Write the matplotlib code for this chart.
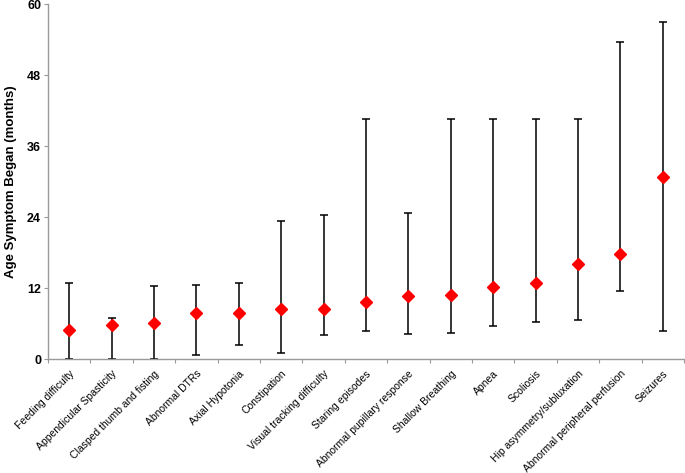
import numpy as np
import matplotlib
matplotlib.use("Agg")
import matplotlib.pyplot as plt

# --- Data (months) ---
symptoms = ["Feeding difficulty", "Appendicular Spasticity", "Clasped thumb and fisting",
            "Abnormal DTRs", "Axial Hypotonia", "Constipation", "Visual tracking difficulty",
            "Staring episodes", "Abnormal pupillary response", "Shallow Breathing", "Apnea",
            "Scoliosis", "Hip asymmetry/subluxation", "Abnormal peripheral perfusion", "Seizures"]
mean_age = [4.9, 5.8, 6.1, 7.7, 7.7, 8.4, 8.4, 9.6, 10.6, 10.8, 12.1, 12.8, 16.0, 17.7, 30.8]
upper = [12.9, 6.9, 12.3, 12.5, 12.9, 23.3, 24.3, 40.6, 24.7, 40.6, 40.6, 40.6, 40.6, 53.5, 57.0]
lower = [0.0, 0.0, 0.0, 0.7, 2.3, 1.0, 4.0, 4.7, 4.2, 4.4, 5.5, 6.2, 6.6, 11.5, 4.7]

plt.rcParams["font.family"] = ["Liberation Sans", "DejaVu Sans"]

fig = plt.figure(figsize=(6.85, 4.73), dpi=100)
ax = fig.add_axes([0.070, 0.241, 0.9285, 0.7505])

x = np.arange(len(symptoms))
mean_age = np.array(mean_age)
yerr = [mean_age - np.array(lower), np.array(upper) - mean_age]

ax.errorbar(x, mean_age, yerr=yerr, fmt="none", ecolor="black", elinewidth=1.1,
            capsize=3, capthick=1.1, zorder=2)
ax.plot(x, mean_age, linestyle="none", marker="D", markersize=6,
        color="red", markeredgecolor="red", zorder=3)

ax.set_xlim(-0.5, len(symptoms) - 0.5)
ax.set_ylim(0, 60)
ax.set_yticks(np.arange(0, 61, 12))
ax.set_yticklabels([str(v) for v in range(0, 61, 12)], fontweight="bold", fontsize=9)
ax.set_ylabel("Age Symptom Began (months)", fontweight="bold", fontsize=9.5, labelpad=7)

# category ticks sit between categories (Excel-style)
ax.set_xticks(np.arange(-0.5, len(symptoms), 1.0), minor=False)
ax.set_xticklabels([])
ax.set_xticks(x, minor=True)
ax.set_xticklabels(symptoms, minor=True, rotation=45, ha="right", va="top",
                   rotation_mode="anchor", fontsize=7.5)
ax.tick_params(axis="x", which="minor", length=0, pad=7)
ax.tick_params(axis="x", which="major", length=3, direction="out", color="#999999")
ax.tick_params(axis="y", length=3, direction="out", color="#999999", pad=2)

for side in ["top", "right"]:
    ax.spines[side].set_visible(False)
for side in ["left", "bottom"]:
    ax.spines[side].set_color("#999999")
    ax.spines[side].set_linewidth(1.0)

fig.savefig("out.png", dpi=100)
